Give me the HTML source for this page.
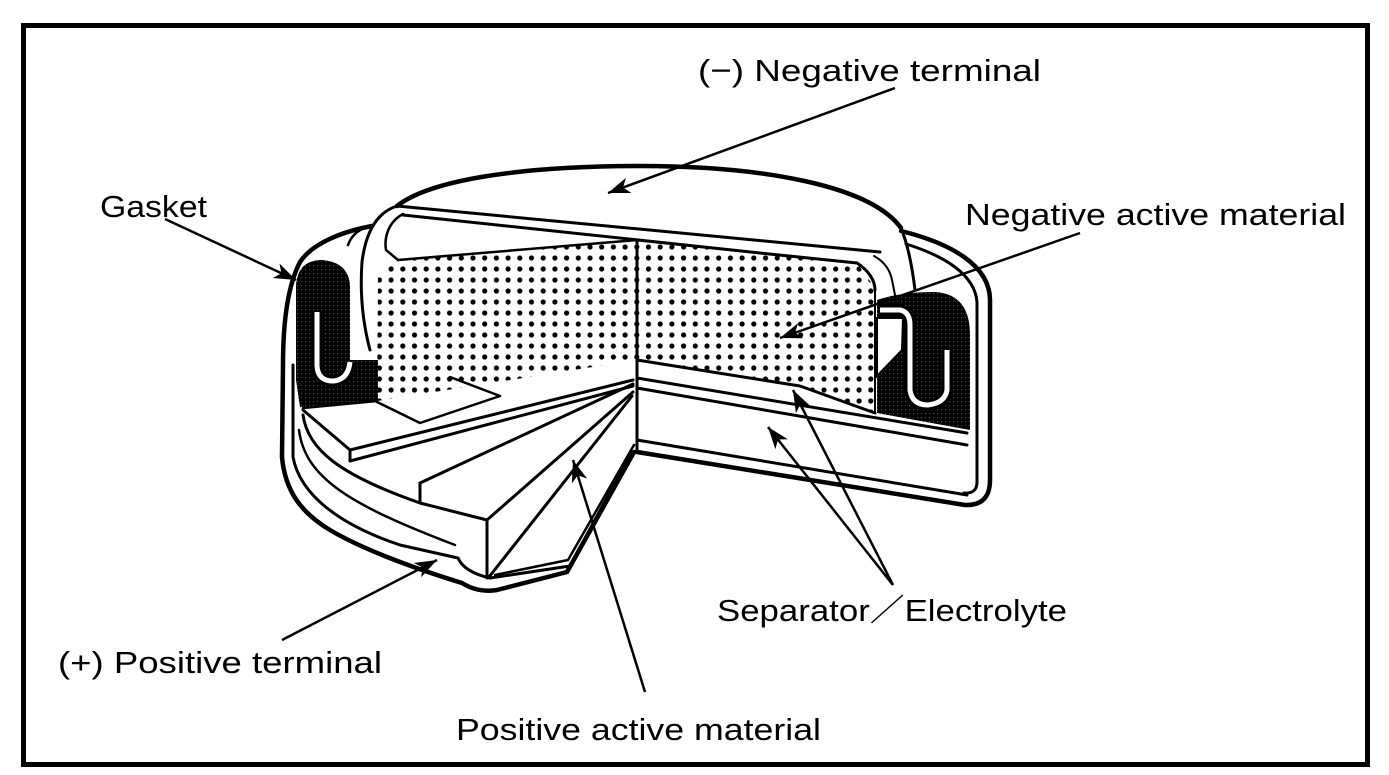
<!DOCTYPE html>
<html><head><meta charset="utf-8"><style>
html,body{margin:0;padding:0;background:#fff;}
svg{display:block;}
text{font-family:"Liberation Sans",Arial,sans-serif;font-size:31px;fill:#000;}
</style></head><body>
<svg width="1389" height="775" viewBox="0 0 1389 775" xmlns="http://www.w3.org/2000/svg">
<defs>
<pattern id="dots" x="0" y="0" width="11.7" height="11" patternUnits="userSpaceOnUse">
<circle cx="5" cy="5" r="2.6" fill="#000"/>
</pattern>
<pattern id="blk" width="4" height="4" patternUnits="userSpaceOnUse">
<rect width="4" height="4" fill="#000"/><rect x="1" y="1" width="1" height="1" fill="#555"/>
</pattern>
<marker id="ah" markerWidth="24" markerHeight="18" refX="22" refY="9" orient="auto" markerUnits="userSpaceOnUse">
<path d="M0,1 L22,9 L0,17 L6,9 Z" fill="#000"/>
</marker>
</defs>
<rect x="0" y="0" width="1389" height="775" fill="#fff"/>
<rect x="23.5" y="25.5" width="1344" height="739" fill="none" stroke="#000" stroke-width="5"/>

<g fill="none" stroke="#000" stroke-linejoin="round" stroke-linecap="round">
<path d="M372,226 C340,232 312,244 300,262 C288,285 283,320 283,365 L282,457 C285,490 300,512 330,530 C360,548 410,567 462,583 Q478,593 497,590 L567,572 L634,452" stroke-width="4.5" fill="#fff"/>
<path d="M901,231 C950,243 990,265 990,300 L990,480 Q990,506 965,505 L637,452" stroke-width="4.5" fill="#fff"/>
<path d="M906,244 C945,256 975,275 977,302 L977,482 Q977,494 964,493" stroke-width="3"/>
</g>

<path d="M378,275 L398,260 L637,240 L760,253 L857,263 L875,288 L875,413 L800,386 L637,360 L377,401 Z" fill="url(#dots)"/>

<path d="M296,285 Q298,260 322,260 Q348,262 350,285 L350,360 L378,360 L378,401 L300,407 L296,380 Z" fill="url(#blk)"/>
<path d="M317,312 L317,366 Q318,381 333,381 Q348,380 350,362" fill="none" stroke="#000" stroke-width="11"/>
<path d="M317,312 L317,366 Q318,381 333,381 Q348,380 350,362" fill="none" stroke="#fff" stroke-width="5"/>

<path d="M877,300 Q900,292 935,292 Q970,294 970,335 L970,430 L877,413 Z" fill="url(#blk)"/>
<path d="M877,318 L903,318 L902,350 L877,376 Z" fill="#fff" stroke="#000" stroke-width="2"/>
<path d="M880,310 L900,310 Q910,312 910,325 L910,390 Q912,405 928,405 Q945,403 947,390 L947,350" fill="none" stroke="#000" stroke-width="11"/>
<path d="M880,310 L900,310 Q910,312 910,325 L910,390 Q912,405 928,405 Q945,403 947,390 L947,350" fill="none" stroke="#fff" stroke-width="5"/>

<g fill="none" stroke="#000" stroke-linejoin="round" stroke-linecap="round">
<path d="M397,206 C430,180 520,166 640,166 C760,166 870,185 901,228" stroke-width="4.5"/>
<path d="M397,206 C378,212 366,230 362,262 C360,290 362,320 370,350" stroke-width="3"/>
<path d="M403,214 C388,222 384,238 386,250 L398,260" stroke-width="2.5"/>
<path d="M397,206 L880,252" stroke-width="3"/>
<path d="M403,215 L760,253 L857,263" stroke-width="3"/>
<path d="M398,260 L637,240" stroke-width="2.5"/>
<path d="M901,228 C908,245 912,265 915,290" stroke-width="3"/>
<path d="M874,256 C885,262 890,270 892,280 L896,300" stroke-width="2"/>
<path d="M857,263 C868,270 875,280 875,290" stroke-width="3"/>
<path d="M372,226 C360,228 352,234 348,245" stroke-width="2.5"/>
<path d="M293,365 L293,457 C300,495 340,525 400,545 L458,558 Q464,572 490,578 L570,566 L630,455" stroke-width="3"/>
<path d="M299,430 C305,478 350,505 455,545" stroke-width="2.5"/>
<path d="M303,408 L377,401" stroke-width="2.5"/>
<path d="M377,402 L420,423 L500,396 L450,377" stroke-width="2.5"/>
<path d="M303,410 L350,450 L633,380" stroke-width="3"/>
<path d="M350,450 L350,461 L633,386" stroke-width="3"/>
<path d="M303,415 C308,450 340,475 420,503 L487,520 L633,392" stroke-width="3"/>
<path d="M420,483 L633,384" stroke-width="3"/>
<path d="M420,483 L420,503" stroke-width="3"/>
<path d="M487,520 L487,578" stroke-width="3"/>
<path d="M489,577 L632,396" stroke-width="3"/>
<path d="M495,575 L568,560 L634,445" stroke-width="2.5"/>
<path d="M637,240 L637,452" stroke-width="3"/>
<path d="M637,360 L800,386 L875,413" stroke-width="3"/>
<path d="M637,378 L967,433" stroke-width="3"/>
<path d="M637,388 L967,445" stroke-width="3"/>
<path d="M637,440 L967,495" stroke-width="3"/>
<path d="M875,288 L875,413" stroke-width="2"/>
</g>

<g stroke="#000" stroke-width="2.5" fill="none">
<line x1="895" y1="88" x2="608" y2="193" marker-end="url(#ah)"/>
<line x1="165" y1="219" x2="296" y2="280" marker-end="url(#ah)"/>
<line x1="1080" y1="233" x2="780" y2="338" marker-end="url(#ah)"/>
<line x1="893" y1="585" x2="768" y2="427" marker-end="url(#ah)"/>
<line x1="893" y1="585" x2="793" y2="390" marker-end="url(#ah)"/>
<line x1="645" y1="692" x2="573" y2="460" marker-end="url(#ah)"/>
<line x1="282" y1="640" x2="437" y2="560" marker-end="url(#ah)"/>
</g>

<text x="698" y="81" textLength="343" lengthAdjust="spacingAndGlyphs">(−) Negative terminal</text>
<text x="100" y="217" textLength="107" lengthAdjust="spacingAndGlyphs">Gasket</text>
<text x="965" y="225" textLength="381" lengthAdjust="spacingAndGlyphs">Negative active material</text>
<text x="717" y="621" textLength="350" lengthAdjust="spacingAndGlyphs">Separator／Electrolyte</text>
<text x="58" y="673" textLength="324" lengthAdjust="spacingAndGlyphs">(+) Positive terminal</text>
<text x="456" y="740" textLength="365" lengthAdjust="spacingAndGlyphs">Positive active material</text>
</svg>
</body></html>
